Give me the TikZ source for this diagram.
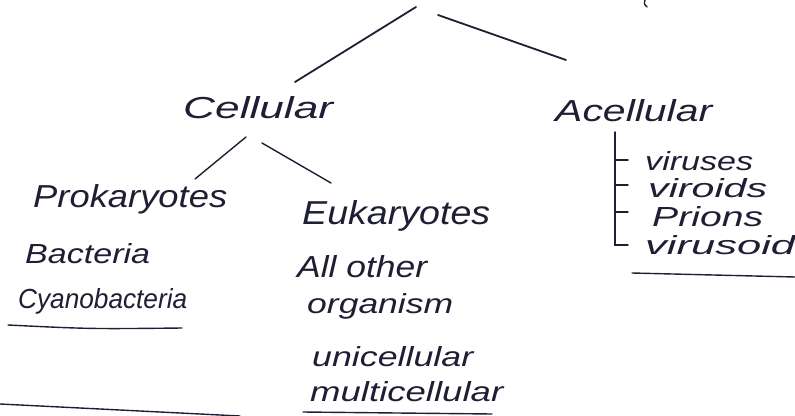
\documentclass[tikz,border=0pt]{standalone}
\usepackage{fontspec}
\usepackage{graphicx}
\newfontfamily\hand[FakeStretch=1.25]{Liberation Sans}
\definecolor{ink}{RGB}{30,30,52}
% width, height above baseline (ascender height), text
\newcommand\hw[3]{\resizebox{#1pt}{#2pt}{\hand\itshape\vphantom{Al}#3}}
\tikzset{
  lbl/.style={inner sep=0pt, anchor=base west, text=ink},
  stroke/.style={draw=ink, line width=1.8pt, line cap=round},
  thin stroke/.style={draw=ink, line width=1.4pt, line cap=round}
}
\begin{document}
\begin{tikzpicture}[x=1pt,y=-1pt]
\useasboundingbox (0,0) rectangle (795,415);
% labels
\node[lbl] (cell) at (183,118) {\hw{150}{22}{Cellular}};
\node[lbl] (acell) at (555,121) {\hw{157}{22}{Acellular}};
\node[lbl] (prok) at (33,207) {\hw{194}{23}{Prokaryotes}};
\node[lbl] (euk) at (302,224) {\hw{188}{24}{Eukaryotes}};
\node[lbl] (bact) at (25,263) {\hw{125}{20}{Bacteria}};
\node[lbl] (cyano) at (18,308) {\hw{169}{20}{Cyanobacteria}};
\node[lbl] (allo) at (297,277) {\hw{130}{22}{All other}};
\node[lbl] (org) at (307,313) {\hw{146}{20}{organism}};
\node[lbl] (uni) at (312,366) {\hw{161}{20}{unicellular}};
\node[lbl] (multi) at (310,401) {\hw{193}{20}{multicellular}};
\node[lbl] (vir) at (645,170) {\hw{108}{19}{viruses}};
\node[lbl] (viro) at (648,197) {\hw{119}{19}{viroids}};
\node[lbl] (prio) at (652,226) {\hw{111}{20}{Prions}};
\node[lbl] (viru) at (645,254) {\hw{150}{19}{virusoid}};
% connector end points
\coordinate (top1) at (416,7);
\coordinate (top2) at (438,15);
\coordinate (c1) at (295,82);
\coordinate (a1) at (566,60);
\coordinate (cs1) at (246,137);
\coordinate (cs2) at (262,143);
\coordinate (p1) at (195,179);
\coordinate (e1) at (331,183);
% top connectors
\draw[stroke] (c1) -- (top1);
\draw[stroke] (top2) -- (a1);
\draw[thin stroke] (p1) -- (cs1);
\draw[thin stroke] (cs2) -- (e1);
% bracket
\coordinate (bt) at (615,132);
\coordinate (bb) at (615,245);
\draw[thin stroke] (bt) -- (bb) -- (628,245);
\draw[thin stroke] (615,160) -- (628,160);
\draw[thin stroke] (615,185) -- (628,185);
\draw[thin stroke] (615,212) -- (628,212);
% underlines
\coordinate (u1a) at (8,325); \coordinate (u1b) at (182,328);
\draw[thin stroke] (u1a) .. controls (90,329) .. (u1b);
\coordinate (u2a) at (632,273); \coordinate (u2b) at (795,277);
\draw[thin stroke] (u2a) -- (u2b);
\coordinate (u3a) at (303,412); \coordinate (u3b) at (492,414);
\draw[thin stroke] (u3a) -- (u3b);
\coordinate (u4a) at (0,404); \coordinate (u4b) at (240,416);
\draw[thin stroke] (u4a) -- (u4b);
% tiny cut-off mark at top
\draw[thin stroke] (645,0) .. controls (644,4) .. (647,7);
\end{tikzpicture}
\end{document}
